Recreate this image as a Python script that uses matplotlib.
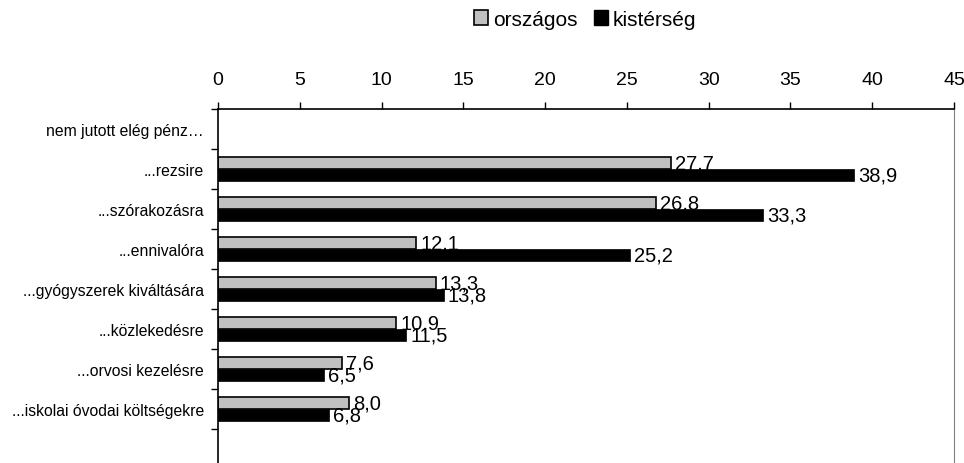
import numpy as np
import matplotlib
matplotlib.use('Agg')
import matplotlib.pyplot as plt
from matplotlib.patches import Patch

plt.rcParams['font.family'] = ['Liberation Sans', 'DejaVu Sans']

categories = ['nem jutott elég pénz…', '...rezsire', '...szórakozásra', '...ennivalóra',
              '...gyógyszerek kiváltására', '...közlekedésre', '...orvosi kezelésre',
              '...iskolai óvodai költségekre', '']
orszagos = [np.nan, 27.7, 26.8, 12.1, 13.3, 10.9, 7.6, 8.0, np.nan]
kisterseg = [np.nan, 38.9, 33.3, 25.2, 13.8, 11.5, 6.5, 6.8, np.nan]
xticks = [0, 5, 10, 15, 20, 25, 30, 35, 40, 45]

fig = plt.figure(figsize=(9.64, 4.64), dpi=100)
ax = fig.add_axes([218 / 964, -6 / 464, 736 / 964, 360 / 464])

y = np.arange(len(categories))
h = 0.3
ax.barh(y - h / 2, orszagos, height=h, color='#C0C0C0', edgecolor='black', linewidth=1.2, zorder=2)
for yi, v in zip(y, orszagos):
    if not np.isnan(v):
        ax.annotate(f'{v:.1f}'.replace('.', ','), (v, yi - h / 2), xytext=(3, 0),
                    textcoords='offset points', va='center', ha='left', fontsize=14.5, zorder=3)
ax.barh(y + h / 2, kisterseg, height=h, color='black', edgecolor='black', linewidth=0.5, zorder=4)
for yi, v in zip(y, kisterseg):
    if not np.isnan(v):
        ax.annotate(f'{v:.1f}'.replace('.', ','), (v, yi + h / 2), xytext=(3, 0),
                    textcoords='offset points', va='center', ha='left', fontsize=14.5, zorder=5)

ax.set_xlim(0, 45)
ax.set_ylim(len(categories) - 0.5, -0.5)
ax.xaxis.tick_top()
ax.set_xticks(xticks)
ax.tick_params(axis='x', direction='out', length=5, labelsize=14, pad=10, width=1)

ax.set_yticks(np.arange(len(categories) + 1) - 0.5)
ax.set_yticklabels([])
ax.set_yticks(y, minor=True)
ax.set_yticklabels(categories, minor=True, fontsize=11.3)
ax.tick_params(axis='y', which='major', direction='out', length=5, width=1)
ax.tick_params(axis='y', which='minor', length=0, pad=10)

ax.spines['right'].set_color('#808080')
ax.spines['bottom'].set_visible(False)
for s in ['left', 'top']:
    ax.spines[s].set_linewidth(1.2)

handles = [Patch(facecolor='#C0C0C0', edgecolor='black', linewidth=1.2, label='országos'),
           Patch(facecolor='black', edgecolor='black', label='kistérség')]
fig.legend(handles=handles, loc='center', bbox_to_anchor=(585 / 964, 1 - 20 / 464), ncol=2,
           frameon=False, fontsize=15, handlelength=0.7, handleheight=0.7,
           handletextpad=0.2, columnspacing=0.8)

plt.savefig('out.png', dpi=100)
plt.close()
